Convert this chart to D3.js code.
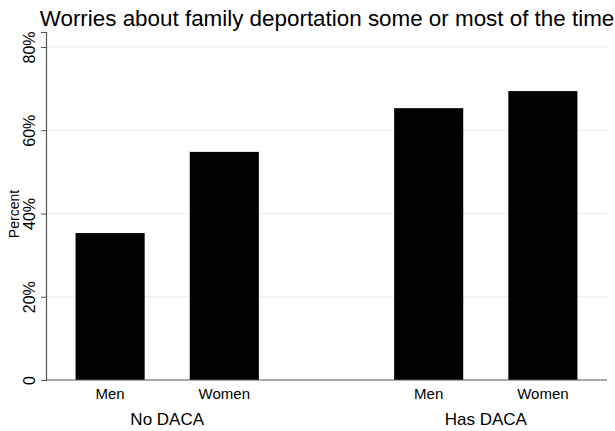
<!DOCTYPE html>
<html>
<head>
<meta charset="utf-8">
<script src="https://cdn.jsdelivr.net/npm/d3@7"></script>
<style>
    body { margin: 0; background: white; }
    svg { font-family: "Liberation Sans", Arial, sans-serif; }
    .grid line { stroke: #eaeaea; stroke-width: 1px; }
</style>
</head>
<body>
<script>
// data
var groups = ["No DACA", "Has DACA"];
var genders = ["Men", "Women"];
var values = [
    {group: "No DACA",  gender: "Men",   pct: 35.3},
    {group: "No DACA",  gender: "Women", pct: 54.8},
    {group: "Has DACA", gender: "Men",   pct: 65.3},
    {group: "Has DACA", gender: "Women", pct: 69.4}
];
var yTicks = [0, 20, 40, 60, 80];
var title = "Worries about family deportation some or most of the time";

var width = 615, height = 431;
var plotLeft = 46, plotRight = 607, plotTop = 32, plotBottom = 380;

var svg = d3.select("body").append("svg")
    .attr("width", width)
    .attr("height", height);

var y = d3.scaleLinear()
    .domain([0, 83.6])
    .range([plotBottom, plotTop]);

var x0 = d3.scaleBand()
    .domain(groups)
    .range([plotLeft, plotRight])
    .paddingInner(0.239)
    .paddingOuter(0);

var x1 = d3.scaleBand()
    .domain(genders)
    .range([0, x0.bandwidth()])
    .paddingInner(0.395)
    .paddingOuter(0.259);

// gridlines
svg.append("g")
    .attr("class", "grid")
    .selectAll("line")
    .data(yTicks.filter(function(d) { return d > 0; }))
    .enter().append("line")
    .attr("x1", plotLeft)
    .attr("x2", plotRight)
    .attr("y1", function(d) { return y(d); })
    .attr("y2", function(d) { return y(d); });

// bars
svg.selectAll("rect.bar")
    .data(values)
    .enter().append("rect")
    .attr("class", "bar")
    .attr("x", function(d) { return x0(d.group) + x1(d.gender); })
    .attr("y", function(d) { return y(d.pct); })
    .attr("width", x1.bandwidth())
    .attr("height", function(d) { return y(0) - y(d.pct); })
    .style("fill", "black");

// y axis
var yAxis = svg.append("g")
    .attr("transform", "translate(" + plotLeft + ",0)")
    .call(d3.axisLeft(y).tickValues(yTicks).tickSize(5).tickPadding(6)
        .tickFormat(function(d) { return d === 0 ? "0" : d + "%"; }));
yAxis.select(".domain").attr("stroke", "#555").attr("stroke-width", 1.2);
yAxis.selectAll(".tick line").attr("stroke", "#555");
yAxis.selectAll(".tick text")
    .attr("transform", "rotate(-90)")
    .attr("x", 0)
    .attr("y", -11)
    .attr("dy", 0)
    .attr("text-anchor", "middle")
    .style("font-size", "16px")
    .style("fill", "black");

// x axis line
svg.append("line")
    .attr("x1", plotLeft).attr("x2", plotRight)
    .attr("y1", plotBottom).attr("y2", plotBottom)
    .attr("stroke", "#555")
    .attr("stroke-width", 1.2);

// bar labels
svg.selectAll("text.sub")
    .data(values)
    .enter().append("text")
    .attr("class", "sub")
    .attr("x", function(d) { return x0(d.group) + x1(d.gender) + x1.bandwidth() / 2; })
    .attr("y", 399)
    .attr("text-anchor", "middle")
    .style("font-size", "15px")
    .text(function(d) { return d.gender; });

// group labels
svg.selectAll("text.grp")
    .data(groups)
    .enter().append("text")
    .attr("class", "grp")
    .attr("x", function(d) { return x0(d) + x0.bandwidth() / 2; })
    .attr("y", 425)
    .attr("text-anchor", "middle")
    .style("font-size", "17px")
    .text(function(d) { return d; });

// y axis title
svg.append("text")
    .attr("transform", "translate(19," + ((plotTop + plotBottom) / 2 + 8) + ") rotate(-90)")
    .attr("text-anchor", "middle")
    .style("font-size", "14px")
    .text("Percent");

// title
svg.append("text")
    .attr("x", (plotLeft + plotRight) / 2 + 0.5)
    .attr("y", 26)
    .attr("text-anchor", "middle")
    .style("font-size", "22.4px")
    .text(title);
</script>
</body>
</html>
